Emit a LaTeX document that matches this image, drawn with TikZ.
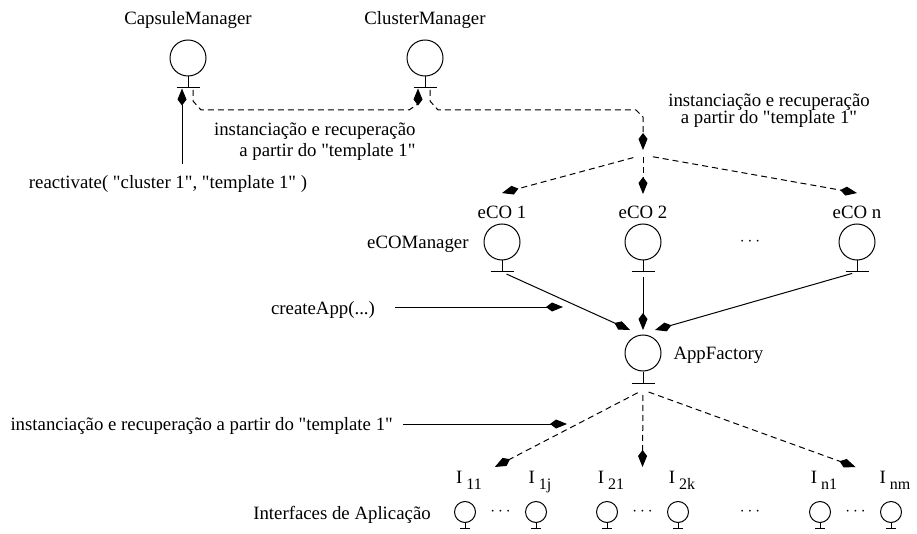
\documentclass[tikz,border=0pt]{standalone}
\usepackage{fontspec}
\setmainfont{Liberation Serif}[Ligatures=TeXOff]
\usetikzlibrary{arrows.meta,calc}
\tikzset{
  tipk/.style={-{Kite[length=17pt,width=9pt,inset=6pt]}},
  dsh/.style={dash pattern=on 6pt off 4pt},
  bigc/.style={circle,draw,minimum size=36pt,inner sep=0pt},
  smallc/.style={circle,draw,minimum size=21pt,inner sep=0pt},
  lbl/.style={inner sep=0pt},
}
% interface symbol: circle with a stem and a crossbar below it
\newcommand{\bigiface}[2]{\node[bigc] (#1) at (#2) {};
  \draw (#1.south) -- ++(0,11.5) coordinate (#1-b);
  \draw ([xshift=-11.5pt]#1-b) -- ([xshift=11.5pt]#1-b);}
\newcommand{\smalliface}[2]{\node[smallc] (#1) at (#2) {};
  \draw (#1.south) -- ++(0,5.5) coordinate (#1-b);
  \draw ([xshift=-5pt]#1-b) -- ([xshift=5pt]#1-b);}
\newcommand{\isub}[1]{I\kern4pt\raisebox{-6pt}{\fontsize{16}{16}\selectfont #1}}
\begin{document}
\begin{tikzpicture}[x=1pt,y=-1pt,font=\fontsize{18.8}{21.7}\selectfont,line width=1pt]
\useasboundingbox (0,0) rectangle (917,534);

% managers
\bigiface{cap}{188,58}
\bigiface{clu}{425,58}
\node[lbl,anchor=base] (capL) at (188,25) {CapsuleManager};
\node[lbl,anchor=base] (cluL) at (425,25) {ClusterManager};
\node[lbl,anchor=base] (react) at (168,189) {reactivate( "cluster 1", "template 1" )};
\node[lbl,anchor=base east,align=right] (instA) at (416,157) {instanciação e recuperação\\a partir do "template 1"};
\node[lbl,anchor=base,align=center] (instB) at (769,124) {instanciação e recuperação\\[-4pt]a partir do "template 1"};

% eCO managers
\bigiface{ecoA}{502,242}
\bigiface{ecoB}{643,242}
\bigiface{ecoN}{857,242}
\node[lbl,anchor=base] (ecoAL) at (502,219) {eCO 1};
\node[lbl,anchor=base] (ecoBL) at (643,219) {eCO 2};
\node[lbl,anchor=base] (ecoNL) at (857,219) {eCO n};
\node[lbl,anchor=base east] (ecoM) at (469,249) {eCOManager};
\node[lbl] (dotsE) at (750,242) {$\cdots$};

% application factory
\bigiface{app}{643,353}
\node[lbl,anchor=base west] (appL) at (673,359) {AppFactory};
\node[lbl,anchor=base] (create) at (323,314) {createApp(...)};
\node[lbl,anchor=base west] (instC) at (10,430) {instanciação e recuperação a partir do "template 1"};

% application interfaces
\smalliface{i11}{465,512}
\smalliface{i1j}{536,512}
\smalliface{i21}{607,512}
\smalliface{i2k}{678,512}
\smalliface{in1}{820,512}
\smalliface{inm}{891,512}
\node[lbl,anchor=base] (i11L) at (469,483) {\isub{11}};
\node[lbl,anchor=base] (i1jL) at (540,483) {\isub{1j}};
\node[lbl,anchor=base] (i21L) at (611,483) {\isub{21}};
\node[lbl,anchor=base] (i2kL) at (682,483) {\isub{2k}};
\node[lbl,anchor=base] (in1L) at (824,483) {\isub{n1}};
\node[lbl,anchor=base] (inmL) at (895,483) {\isub{nm}};
\node[lbl] (d1) at ($(i11)!0.5!(i1j)$) {$\cdots$};
\node[lbl] (d2) at ($(i21)!0.5!(i2k)$) {$\cdots$};
\node[lbl] (d3) at ($(in1)!0.5!(inm)$) {$\cdots$};
\node[lbl] (d4) at (750,512) {$\cdots$};
\node[lbl,anchor=base] (ifl) at (342,519) {Interfaces de Aplicação};

% reactivate call
\coordinate (capIn) at ([xshift=-6pt]cap-b);
\draw[tipk,shorten <=11pt,shorten >=0.5pt] (react.north -| capIn) -- (capIn);

% instantiation from CapsuleManager to ClusterManager
\coordinate (capOut) at ([xshift=5pt]cap-b);
\coordinate (cluIn) at ([xshift=-7pt]clu-b);
\draw[dsh,tipk,shorten <=2pt,shorten >=0.5pt] (capOut) -- ++(0,13) -- ++(8,9)
  -- ($(cluIn)+(-9,22)$) -- ($(cluIn)+(0,16)$) -- (cluIn);

% instantiation from ClusterManager to the eCOs
\coordinate (cluOut) at ([xshift=5pt]clu-b);
\coordinate (split) at (643,155);
\draw[dsh,tipk,shorten <=2pt,shorten >=5pt] (cluOut) -- ++(0,13) -- ++(8,9)
  -- ($(split)+(-7,-45)$) -- ($(split)+(0,-38)$) -- (split);
\coordinate (ecoAT) at ([yshift=13pt]ecoAL.north);
\coordinate (ecoBT) at ([yshift=12pt]ecoBL.north);
\coordinate (ecoNT) at ([yshift=13pt]ecoNL.north);
\draw[dsh,tipk,shorten <=10pt] (split) -- (ecoAT);
\draw[dsh,tipk,shorten <=2pt] (split) -- (ecoBT);
\draw[dsh,tipk,shorten <=10pt] (split) -- (ecoNT);

% eCOs to AppFactory
\coordinate (appTL) at ([shift={(-13,-23)}]app.center);
\coordinate (appTM) at ([shift={(0,-23)}]app.center);
\coordinate (appTR) at ([shift={(12,-23)}]app.center);
\draw[tipk,shorten <=5pt] (ecoA-b) -- (appTL);
\draw[tipk,shorten <=5pt] (ecoB-b) -- (appTM);
\draw[tipk,shorten <=5pt] (ecoN-b) -- (appTR);

% createApp call
\coordinate (createEnd) at (563,307);
\draw[tipk,shorten <=20pt] (create.east |- createEnd) -- (createEnd);

% instantiation of the application interfaces
\coordinate (split2) at ([yshift=-7pt]app-b);
\coordinate (g1) at ($(i11)!0.42!(i1j)+(0,-45)$);
\coordinate (g2) at ($(i21)!0.5!(i2k)+(0,-45)$);
\coordinate (g3) at ($(in1)!0.5!(inm)+(0,-45)$);
\draw[dsh,tipk,shorten <=6pt] (split2) -- (g1);
\draw[dsh,tipk,shorten <=5pt] (split2) -- (g2);
\draw[dsh,tipk,shorten <=6pt] (split2) -- (g3);
\coordinate (instEnd) at (567,424);
\draw[tipk,shorten <=10pt] (instC.east |- instEnd) -- (instEnd);
\end{tikzpicture}
\end{document}
